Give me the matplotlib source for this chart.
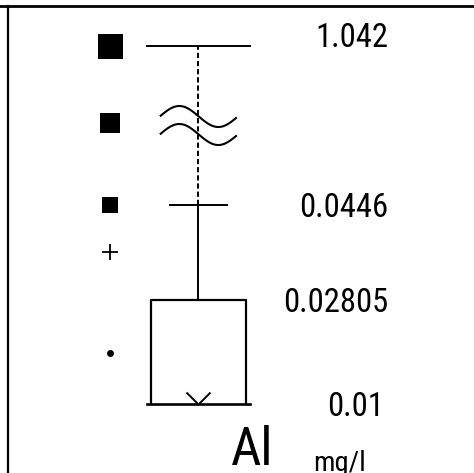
import numpy as np
import matplotlib
matplotlib.use("Agg")
import matplotlib.pyplot as plt
from matplotlib.path import Path
import matplotlib.transforms as mtrans
import matplotlib.font_manager as fm

# ---- data ----
box_q1 = 0.01
box_median = 0.01
box_q3 = 0.02805
whisker_high = 0.0446
data_max = 1.042
value_labels = ["1.042", "0.0446", "0.02805", "0.01"]
value_levels = [1.042, 0.0446, 0.02805, 0.01]
# left-hand symbol column (estimated levels)
sym_levels = [1.042, 0.562, 0.0455, 0.0364, 0.0189]
sym_markers = ["s", "s", "s", "+", "o"]
sym_sizes = [18, 14.4, 11.5, 11.5, 5]
variable = "Al"
unit = "mg/l"

names = {f.name for f in fm.fontManager.ttflist}
FONT = [n for n in ["Roboto Condensed", "Archivo Narrow", "Liberation Sans"] if n in names] + ["DejaVu Sans"]

# broken linear scale
b = whisker_high
k = 0.027718

def forward(v):
    v = np.asarray(v, dtype=float)
    return np.where(v <= b, v, b + (v - b) * k)

def inverse(u):
    u = np.asarray(u, dtype=float)
    return np.where(u <= b, u, b + (u - b) / k)

W, H = 474, 473
fig = plt.figure(figsize=(W / 100, H / 100), dpi=100)
ax = fig.add_axes([0, 0, 1, 1])
ax.set_yscale("function", functions=(forward, inverse))
ax.set_xlim(0, W)
ax.set_ylim(-0.001997, float(inverse(0.080245)))
ax.axis("off")

cx = 198.3
box_w = 94.6
lw_box = 1.6
lw_wh = 1.4

# box
ax.plot([cx - box_w / 2, cx - box_w / 2, cx + box_w / 2, cx + box_w / 2],
        [box_q1, box_q3, box_q3, box_q1], color="black", lw=lw_box, solid_capstyle="butt")
ax.plot([cx - 51.3, cx + 51.3], [box_q1, box_q1], color="black", lw=lw_box + 0.3)
# median marker (V)
vpath = Path([(-1, 1), (0, 0), (1, 1)], [Path.MOVETO, Path.LINETO, Path.LINETO])
ax.plot([cx], [box_median], marker=vpath, markersize=17.3, markerfacecolor="none",
        markeredgecolor="black", markeredgewidth=1.4, linestyle="none")
# whisker solid
ax.plot([cx, cx], [box_q3, whisker_high], color="black", lw=lw_wh)
ax.plot([cx - 28.3, cx + 28.3], [whisker_high, whisker_high], color="black", lw=lw_wh)
# dashed to max
ax.plot([cx, cx], [whisker_high, data_max], color="black", lw=lw_wh,
        dashes=(2.7, 1.5))
ax.plot([cx - 51.5, cx + 51.5], [data_max, data_max], color="black", lw=lw_wh)

# axis break wave
fig.canvas.draw()
y_top = ax.transData.transform((cx, data_max))[1]
y_bot = ax.transData.transform((cx, whisker_high))[1]
ymid = (y_top + y_bot) / 2
x_disp0 = ax.transData.transform((159.8, 0.01))[0]
xs = np.linspace(160.7, 236, 100)
xd = ax.transData.transform(np.column_stack([xs, np.full_like(xs, 0.01)]))[:, 0]
for off in (9, -9):
    yd = ymid + off + 10.5 * np.sin(2 * np.pi * (xd - x_disp0) / 78.0)
    ax.plot(xd, yd, color="black", lw=1.5, transform=None, clip_on=False)

# symbol column
for lev, m, s in zip(sym_levels, sym_markers, sym_sizes):
    ax.plot([110], [lev], marker=m, markersize=s, color="black",
            markeredgewidth=1.3 if m == "+" else 0, linestyle="none")

# value labels
offs = [-1, -12, -12, -12]
label_x = [388, 388, 388, 384]
for lab, lev, o, lx in zip(value_labels, value_levels, offs, label_x):
    tr = mtrans.offset_copy(ax.transData, fig=fig, x=0, y=o * 0.72, units="points")
    ax.text(lx, lev, lab, transform=tr, ha="right", va="baseline",
            fontsize=23.5, family=FONT)

ax.text(231, 8, variable, transform=None, ha="left", va="baseline",
        fontsize=38, family=FONT)
ax.text(313, 2, unit, transform=None, ha="left", va="baseline",
        fontsize=20.5, family=FONT)

# frame lines (top and left)
ax.plot([0, 1], [1 - 6 / H, 1 - 6 / H], transform=ax.transAxes, color="black", lw=2.0, clip_on=False)
ax.plot([8 / W, 8 / W], [0, 1 - 6 / H], transform=ax.transAxes, color="black", lw=1.6, clip_on=False)

fig.savefig("out.png", dpi=100)
